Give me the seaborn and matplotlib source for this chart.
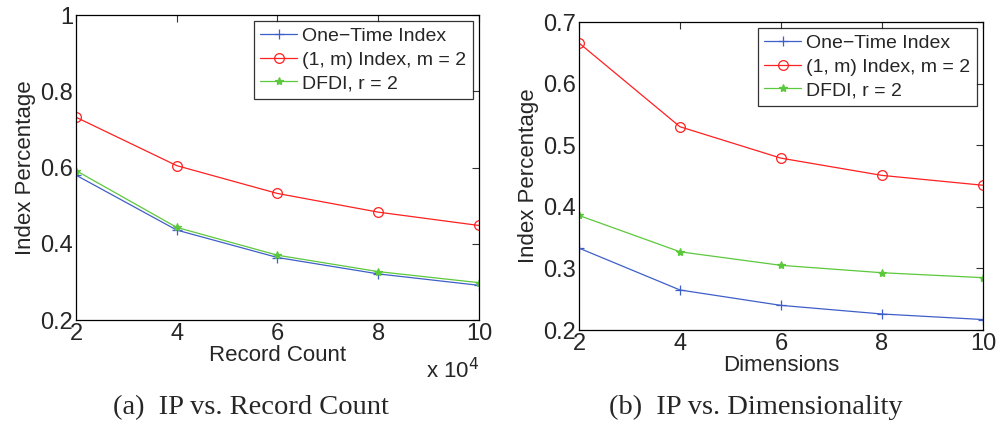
import numpy as np
import pandas as pd
import seaborn as sns
import matplotlib
matplotlib.use("Agg")
import matplotlib.pyplot as plt

# ===== data =====
record_count = [2, 4, 6, 8, 10]          # x 10^4
dimensions = [2, 4, 6, 8, 10]

rc_one_time = [0.580, 0.436, 0.364, 0.321, 0.291]
rc_one_m = [0.732, 0.605, 0.532, 0.483, 0.448]
rc_dfdi = [0.592, 0.443, 0.370, 0.327, 0.298]

dim_one_time = [0.333, 0.265, 0.240, 0.226, 0.217]
dim_one_m = [0.666, 0.530, 0.479, 0.451, 0.435]
dim_dfdi = [0.386, 0.327, 0.305, 0.293, 0.285]

labels = ["One\u2212Time Index", "(1, m) Index, m = 2", "DFDI, r = 2"]
colors = ["#3f5fc8", "#ff2020", "#5cc83c"]
markers = ["+", "o", "*"]

sns.set_theme(style="white")
plt.rcParams["font.family"] = ["Liberation Sans", "DejaVu Sans"]
plt.rcParams["axes.unicode_minus"] = True

fig = plt.figure(figsize=(9.97, 4.25), dpi=100)
ax1 = fig.add_axes([0.0762, 0.247, 0.4042, 0.7176])
ax2 = fig.add_axes([0.5807, 0.2235, 0.4052, 0.7247])


def draw(ax, x, series, ylim, yticks, yfmt, xlabel):
    for y, lab, c, m in zip(series, labels, colors, markers):
        kw = dict(marker=m, color=c, linewidth=0.9, markersize=7 if m != "*" else 6)
        if m == "o":
            kw.update(markerfacecolor="none", markeredgecolor=c, markeredgewidth=0.9, markersize=7)
        else:
            kw.update(markeredgecolor=c, markeredgewidth=0.9)
        sns.lineplot(x=x, y=y, ax=ax, label=lab, **kw)
    ax.set_xlim(2, 10)
    ax.set_ylim(*ylim)
    ax.set_xticks([2, 4, 6, 8, 10])
    ax.set_xticklabels(["2", "4", "6", "8", "10"])
    ax.set_yticks(yticks)
    ax.set_yticklabels([yfmt(v) for v in yticks])
    ax.tick_params(direction="in", length=5, width=0.8, top=True, right=True,
                   labelsize=17, pad=2, color="#333333")
    for s in ax.spines.values():
        s.set_linewidth(0.9)
        s.set_color("black")
    ax.set_xlabel(xlabel, fontsize=16, labelpad=0)
    ax.set_ylabel("Index Percentage", fontsize=16, labelpad=3)
    leg = ax.legend(loc="upper right", fontsize=14, frameon=True, fancybox=False,
                    edgecolor="black", borderaxespad=0.3, handlelength=1.9,
                    handletextpad=0.25, borderpad=0.35, labelspacing=0.3)
    leg.get_frame().set_linewidth(0.9)


draw(ax1, record_count, [rc_one_time, rc_one_m, rc_dfdi], (0.2, 1.0),
     [0.2, 0.4, 0.6, 0.8, 1.0], lambda v: "1" if v == 1.0 else f"{v:.1f}", "Record Count")
draw(ax2, dimensions, [dim_one_time, dim_one_m, dim_dfdi], (0.2, 0.7),
     [0.2, 0.3, 0.4, 0.5, 0.6, 0.7], lambda v: f"{v:.1f}", "Dimensions")

ax1.text(1.0, -0.165, r"x 10$^4$", transform=ax1.transAxes, ha="right", va="center",
         fontsize=16)

fig.text(0.252, 0.042, "(a)  IP vs. Record Count", ha="center", va="center",
         fontsize=20.5, family=["Liberation Serif", "DejaVu Serif"])
fig.text(0.758, 0.042, "(b)  IP vs. Dimensionality", ha="center", va="center",
         fontsize=20.5, family=["Liberation Serif", "DejaVu Serif"])

fig.savefig("out.png", dpi=100)
